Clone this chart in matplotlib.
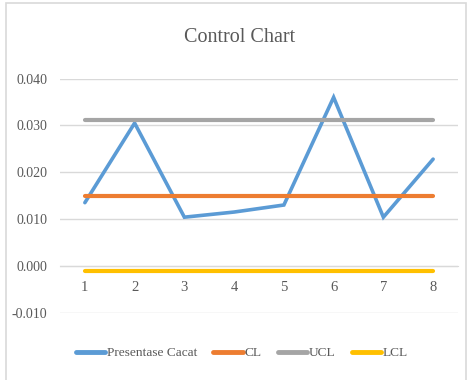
import matplotlib.pyplot as plt
from matplotlib.patches import Rectangle

samples = [1, 2, 3, 4, 5, 6, 7, 8]
presentase_cacat = [0.0135, 0.0305, 0.0104, 0.0115, 0.0130, 0.0360, 0.0104, 0.0228]
cl = [0.0150] * 8
ucl = [0.0312] * 8
lcl = [-0.0012] * 8
y_ticks = [-0.010, 0.000, 0.010, 0.020, 0.030, 0.040]

text_color = '#595959'
grid_color = '#D9D9D9'
plt.rcParams['font.family'] = ['Liberation Serif', 'DejaVu Serif']

fig = plt.figure(figsize=(4.7, 3.8), dpi=100)
fig.patches.append(Rectangle((6 / 470, -0.01), 460 / 470, 1 - 3 / 380 + 0.01,
                             transform=fig.transFigure, fill=False,
                             edgecolor='#D9D9D9', linewidth=1.2))

ax = fig.add_axes([60 / 470, 1 - 312.7 / 380, 398 / 470, 234.1 / 380])

series = [
    ('Presentase Cacat', presentase_cacat, '#5B9BD5'),
    ('CL', cl, '#ED7D31'),
    ('UCL', ucl, '#A5A5A5'),
    ('LCL', lcl, '#FFC000'),
]
for name, vals, color in series:
    lw = 2.6 if name == 'Presentase Cacat' else 3.0
    ax.plot(samples, vals, color=color, linewidth=lw, label=name,
            solid_capstyle='round', solid_joinstyle='miter', zorder=3)

ax.set_xlim(0.5, 8.5)
ax.set_ylim(-0.010, 0.040)
ax.set_yticks(y_ticks)
ax.set_yticklabels([f'{v:.3f}' for v in y_ticks])
ax.set_xticks(samples)
ax.set_xticklabels([str(s) for s in samples])

ax.grid(axis='y', color=grid_color, linewidth=1.0)
ax.set_axisbelow(True)
for side in ['left', 'right', 'top']:
    ax.spines[side].set_visible(False)
ax.spines['bottom'].set_position(('data', 0))
ax.spines['bottom'].set_color(grid_color)
ax.tick_params(axis='y', length=0, pad=9, labelsize=10, labelcolor=text_color)
ax.tick_params(axis='x', length=0, pad=11, labelsize=10.5, labelcolor=text_color)

fig.text(240 / 470, 1 - 38 / 380, 'Control Chart', ha='center', va='center',
         fontsize=14.5, color=text_color)

leg = fig.legend(loc='center', bbox_to_anchor=(242 / 470, 1 - 353 / 380), ncol=4,
                 frameon=False, fontsize=9.6, handlelength=2.2, handletextpad=0.15,
                 columnspacing=1.2)
for t in leg.get_texts():
    t.set_color(text_color)
for h in leg.get_lines():
    h.set_linewidth(3.5)
    h.set_solid_capstyle('round')

fig.savefig('out.png', dpi=100)
